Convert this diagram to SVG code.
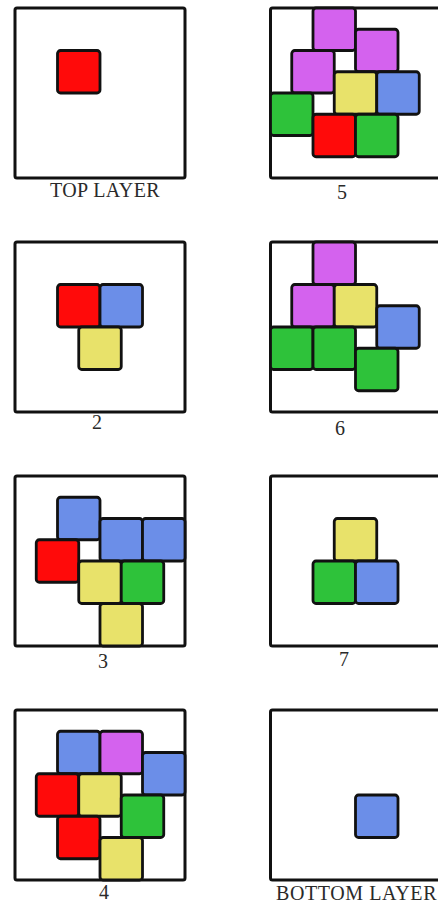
<svg xmlns="http://www.w3.org/2000/svg" width="438" height="903" viewBox="0 0 438 903">
<style>
.fr{fill:#fff;stroke:#111;stroke-width:3;}
.sq{stroke:#111;stroke-width:2.8;}
.r{fill:#ff0a0a;}
.b{fill:#6b8ee8;}
.y{fill:#e8e26a;}
.g{fill:#2ec23a;}
.p{fill:#d462ee;}
.lb{font-family:"Liberation Serif","Times New Roman",serif;font-size:20px;fill:#2a2a2a;text-anchor:middle;}
</style>
<defs>
<rect id="s" width="42.5" height="42.5" rx="3"/>
</defs>
<rect width="438" height="903" fill="#fff"/>
<g id="top-layer">
<rect class="fr" x="15" y="8" width="170" height="170" rx="2"/>
<use href="#s" class="sq r" x="57.5" y="50.5"/>
<text class="lb" x="105" y="197" style="letter-spacing:0.4px">TOP LAYER</text>
</g>
<g id="layer-2">
<rect class="fr" x="15" y="242" width="170" height="170" rx="2"/>
<use href="#s" class="sq r" x="57.5" y="284.5"/>
<use href="#s" class="sq b" x="100" y="284.5"/>
<use href="#s" class="sq y" x="78.75" y="327"/>
<text class="lb" x="97" y="429">2</text>
</g>
<g id="layer-3">
<rect class="fr" x="15" y="476" width="170" height="170" rx="2"/>
<use href="#s" class="sq b" x="57.5" y="497.25"/>
<use href="#s" class="sq b" x="100" y="518.5"/>
<use href="#s" class="sq b" x="142.5" y="518.5"/>
<use href="#s" class="sq r" x="36.25" y="539.75"/>
<use href="#s" class="sq y" x="78.75" y="561"/>
<use href="#s" class="sq g" x="121.25" y="561"/>
<use href="#s" class="sq y" x="100" y="603.5"/>
<text class="lb" x="103" y="668">3</text>
</g>
<g id="layer-4">
<rect class="fr" x="15" y="710" width="170" height="170" rx="2"/>
<use href="#s" class="sq b" x="57.5" y="731.25"/>
<use href="#s" class="sq p" x="100" y="731.25"/>
<use href="#s" class="sq b" x="142.5" y="752.5"/>
<use href="#s" class="sq r" x="36.25" y="773.75"/>
<use href="#s" class="sq y" x="78.75" y="773.75"/>
<use href="#s" class="sq g" x="121.25" y="795"/>
<use href="#s" class="sq r" x="57.5" y="816.25"/>
<use href="#s" class="sq y" x="100" y="837.5"/>
<text class="lb" x="104" y="899">4</text>
</g>
<g id="layer-5">
<rect class="fr" x="270.5" y="8" width="170" height="170" rx="2"/>
<use href="#s" class="sq p" x="313" y="8"/>
<use href="#s" class="sq p" x="355.5" y="29.25"/>
<use href="#s" class="sq p" x="291.75" y="50.5"/>
<use href="#s" class="sq y" x="334.25" y="71.75"/>
<use href="#s" class="sq b" x="376.75" y="71.75"/>
<use href="#s" class="sq g" x="270.5" y="93"/>
<use href="#s" class="sq r" x="313" y="114.25"/>
<use href="#s" class="sq g" x="355.5" y="114.25"/>
<text class="lb" x="342" y="199">5</text>
</g>
<g id="layer-6">
<rect class="fr" x="270.5" y="242" width="170" height="170" rx="2"/>
<use href="#s" class="sq p" x="313" y="242"/>
<use href="#s" class="sq p" x="291.75" y="284.5"/>
<use href="#s" class="sq y" x="334.25" y="284.5"/>
<use href="#s" class="sq b" x="376.75" y="305.75"/>
<use href="#s" class="sq g" x="270.5" y="327"/>
<use href="#s" class="sq g" x="313" y="327"/>
<use href="#s" class="sq g" x="355.5" y="348.25"/>
<text class="lb" x="340" y="435">6</text>
</g>
<g id="layer-7">
<rect class="fr" x="270.5" y="476" width="170" height="170" rx="2"/>
<use href="#s" class="sq y" x="334.25" y="518.5"/>
<use href="#s" class="sq g" x="313" y="561"/>
<use href="#s" class="sq b" x="355.5" y="561"/>
<text class="lb" x="344" y="666">7</text>
</g>
<g id="bottom-layer">
<rect class="fr" x="270.5" y="710" width="170" height="170" rx="2"/>
<use href="#s" class="sq b" x="355.5" y="795"/>
<text class="lb" x="276" y="900" style="text-anchor:start;letter-spacing:0.6px">BOTTOM LAYER</text>
</g>
<g id="connectors"/>
</svg>
